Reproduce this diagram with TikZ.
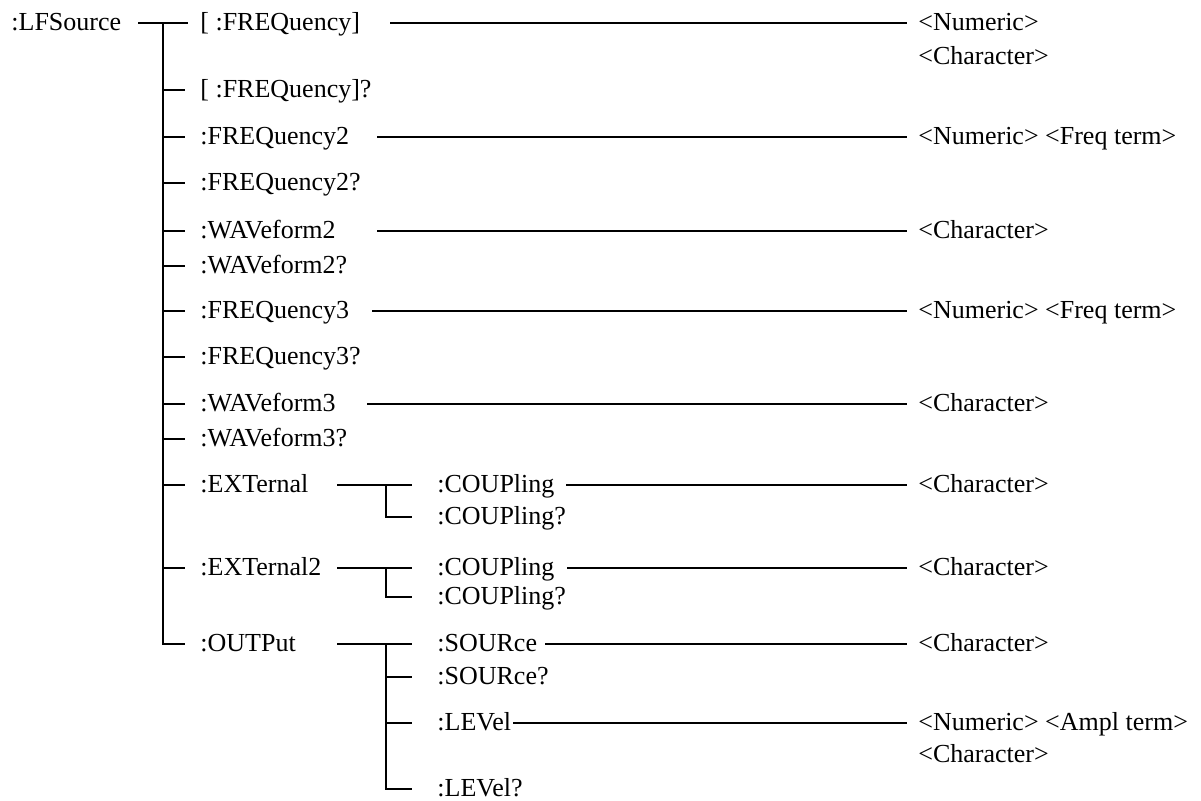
\documentclass[tikz,border=0pt]{standalone}
\usepackage{fontspec}
\setmainfont{Liberation Serif}
\begin{document}
\begin{tikzpicture}[x=0.5pt,y=-0.5pt,
  lbl/.style={anchor=base west,inner sep=0pt,font=\fontsize{13}{15}\selectfont},
  ln/.style={line width=0.8pt,black}]
\useasboundingbox (0,0) rectangle (1201,801);
% ---- left labels (baseline = line y + 7.5)
\node[lbl] (lfs) at (11,30.5) {:LFSource};
\node[lbl] (f1)  at (200,30.5) {[ :FREQuency]};
\node[lbl] (f1q) at (200,97.5) {[ :FREQuency]?};
\node[lbl] (f2)  at (200,144.5) {:FREQuency2};
\node[lbl] (f2q) at (200,190.5) {:FREQuency2?};
\node[lbl] (w2)  at (200,238.5) {:WAVeform2};
\node[lbl] (w2q) at (200,273.5) {:WAVeform2?};
\node[lbl] (f3)  at (200,318.5) {:FREQuency3};
\node[lbl] (f3q) at (200,364.5) {:FREQuency3?};
\node[lbl] (w3)  at (200,411.5) {:WAVeform3};
\node[lbl] (w3q) at (200,446.5) {:WAVeform3?};
\node[lbl] (ex1) at (200,492.5) {:EXTernal};
\node[lbl] (ex2) at (200,575.5) {:EXTernal2};
\node[lbl] (out) at (200,651.5) {:OUTPut};
% ---- sub labels
\node[lbl] (c1)  at (437,492.5) {:COUPling};
\node[lbl] (c1q) at (437,524.5) {:COUPling?};
\node[lbl] (c2)  at (437,575.5) {:COUPling};
\node[lbl] (c2q) at (437,604.5) {:COUPling?};
\node[lbl] (src) at (437,651.5) {:SOURce};
\node[lbl] (srq) at (437,684.5) {:SOURce?};
\node[lbl] (lev) at (437,730.5) {:LEVel};
\node[lbl] (lvq) at (437,796.5) {:LEVel?};
% ---- right values
\node[lbl] (v1)  at (918,30.5) {<Numeric>};
\node[lbl] (v1b) at (918,64.5) {<Character>};
\node[lbl] (v2)  at (918,144.5) {<Numeric> <Freq term>};
\node[lbl] (v3)  at (918,238.5) {<Character>};
\node[lbl] (v4)  at (918,318.5) {<Numeric> <Freq term>};
\node[lbl] (v5)  at (918,411.5) {<Character>};
\node[lbl] (v6)  at (918,492.5) {<Character>};
\node[lbl] (v7)  at (918,575.5) {<Character>};
\node[lbl] (v8)  at (918,651.5) {<Character>};
\node[lbl] (v9)  at (918,730.5) {<Numeric> <Ampl term>};
\node[lbl] (v9b) at (918,762.5) {<Character>};
% ---- coordinates of the tree
\coordinate (ta) at (138,23);
\coordinate (tt) at (163,23);
\coordinate (tb) at (163,644);
% trunk
\draw[ln] (ta) -- (188,23);
\draw[ln] (tt) -- (tb) -- (185,644);
\foreach \y in {90,137,183,231,266,311,357,404,439,485,568}
  \draw[ln] (163,\y) -- (185,\y);
% sub trunks
\draw[ln] (337,485) -- (412,485);
\draw[ln] (386,485) -- (386,517) -- (412,517);
\draw[ln] (337,568) -- (412,568);
\draw[ln] (386,568) -- (386,597) -- (412,597);
\draw[ln] (337,644) -- (412,644);
\draw[ln] (386,644) -- (386,789) -- (412,789);
\draw[ln] (386,677) -- (412,677);
\draw[ln] (386,723) -- (412,723);
% right connectors
\draw[ln] (390,23) -- (907,23);
\draw[ln] (377,137) -- (907,137);
\draw[ln] (377,231) -- (907,231);
\draw[ln] (372,311) -- (907,311);
\draw[ln] (367,404) -- (907,404);
\draw[ln] (566,485) -- (907,485);
\draw[ln] (567,568) -- (907,568);
\draw[ln] (545,644) -- (907,644);
\draw[ln] (513,723) -- (907,723);
\end{tikzpicture}
\end{document}
